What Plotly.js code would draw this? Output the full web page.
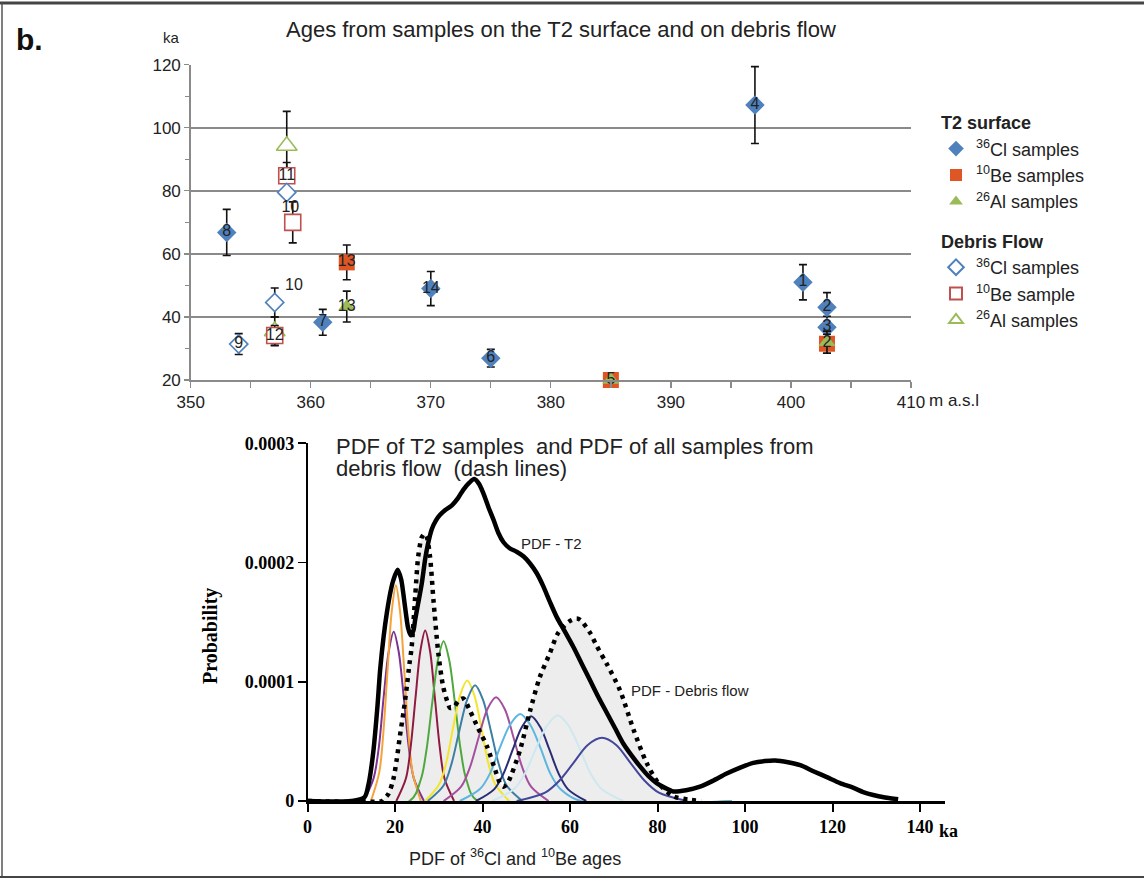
<!DOCTYPE html>
<html>
<head>
<meta charset="utf-8">
<script src="https://cdn.plot.ly/plotly-3.0.1.min.js"></script>
<style>html,body{margin:0;padding:0;background:#fff;}#chart{width:1144px;height:878px;}</style>
</head>
<body>
<div id="chart"></div>
<script>
// ---------- Top chart data: altitude (m a.s.l) vs age (ka) ----------
const clT2X = [401, 403, 403, 397, 375, 361, 353, 370];
const clT2Y = [51, 43.1, 36.7, 107.2, 26.9, 38.3, 66.8, 49];
const clT2Err = [5.6, 4.6, 3.5, 12.2, 2.8, 4.1, 7.3, 5.4];

const beT2X = [363, 385, 403];
const beT2Y = [57.3, 20, 31.5];
const beT2Err = [5.5, 0, 3];

const alT2X = [363, 385, 403];
const alT2Y = [43.3, 20, 32];
const alT2Err = [4.9, 0, 3.5];

const clDfX = [354, 357, 358];
const clDfY = [31.4, 44.6, 79.5];
const clDfErr = [3.3, 4.6, 0];

const beDfX = [357, 358, 358.5];
const beDfY = [34.1, 84.8, 70];
const beDfErr = [3.2, 4.2, 6.5];

const alDfX = [357, 358];
const alDfY = [35.5, 94.3];
const alDfErr = [4.5, 10.9];

const labelX = [353, 354, 357, 358, 358.3, 358.6, 361, 363, 363, 370, 375, 385, 397, 401, 403, 403, 403];
const labelY = [66.8, 31.4, 34.1, 84.8, 74.5, 49.8, 38.3, 57.3, 43.3, 49, 26.9, 20, 107.2, 51, 43.1, 36.7, 31.7];
const labelText = ['8','9','12','11','10','10','7','13','13','14','6','5','4','1','2','3','2'];

const topXTicks = [350, 360, 370, 380, 390, 400, 410];
const topXTickText = ['350', '360', '370', '380', '390', '400', '410'];
const topYTicks = [20, 40, 60, 80, 100, 120];

// ---------- Bottom chart data: PDFs (probability in units of 0.0001) ----------
const pdfT2X = [0, 10, 13.0, 14.0, 15.0, 16.0, 16.6, 17.4, 18.1, 19.0, 19.6, 20.6, 21.4, 21.9, 22.5, 23.0, 23.6, 24.2, 24.6, 25.3, 26.1, 26.9, 27.5, 28.4, 29.3, 30.3, 31.5, 33.0, 34.4, 35.6, 37.0, 38.1, 39.2, 40.2, 41.4, 42.5, 43.6, 44.8, 46.2, 47.8, 49.4, 50.9, 52.4, 53.9, 55.4, 57.0, 59.0, 60.8, 62.7, 64.6, 66.5, 68.4, 70.3, 72.2, 74.1, 76.0, 77.9, 79.8, 81.7, 83.6, 86.5, 89.7, 92.7, 95.8, 98.9, 101.9, 104.5, 106.9, 109.8, 112.6, 115.6, 118.7, 121.7, 124.8, 127.0, 129.3, 132.0, 135.0];
const pdfT2Y = [0, 0, 0.03, 0.15, 0.40, 0.80, 1.10, 1.38, 1.57, 1.76, 1.85, 1.94, 1.86, 1.74, 1.57, 1.45, 1.39, 1.43, 1.52, 1.66, 1.82, 2.03, 2.15, 2.28, 2.35, 2.40, 2.44, 2.48, 2.54, 2.61, 2.67, 2.70, 2.66, 2.58, 2.46, 2.36, 2.25, 2.17, 2.12, 2.09, 2.05, 1.99, 1.91, 1.80, 1.67, 1.54, 1.41, 1.29, 1.15, 1.01, 0.87, 0.74, 0.61, 0.48, 0.38, 0.29, 0.21, 0.15, 0.11, 0.08, 0.09, 0.12, 0.17, 0.23, 0.28, 0.32, 0.335, 0.34, 0.325, 0.30, 0.25, 0.20, 0.15, 0.11, 0.075, 0.05, 0.03, 0.015];

const pdfDfX = [0, 17.0, 17.3, 18.5, 19.6, 20.4, 21.1, 22.0, 22.7, 23.3, 23.8, 24.6, 25.3, 26.1, 26.7, 27.2, 28.0, 28.8, 29.9, 31.0, 31.9, 32.6, 33.5, 34.5, 35.6, 37.1, 39.0, 41.0, 42.9, 44.0, 44.8, 45.7, 46.7, 48.6, 50.9, 53.1, 55.4, 57.3, 60.0, 61.5, 62.3, 64.6, 66.1, 68.4, 71.4, 74.5, 77.5, 80.2, 83.6, 87.4, 90.0];
const pdfDfY = [0, 0, 0.01, 0.06, 0.18, 0.35, 0.54, 0.76, 0.96, 1.15, 1.29, 1.71, 2.05, 2.21, 2.24, 2.22, 2.05, 1.68, 1.24, 0.96, 0.84, 0.78, 0.79, 0.84, 0.86, 0.76, 0.61, 0.46, 0.26, 0.15, 0.12, 0.15, 0.23, 0.43, 0.76, 1.04, 1.24, 1.41, 1.51, 1.53, 1.52, 1.41, 1.30, 1.15, 0.93, 0.60, 0.32, 0.15, 0.04, 0.01, 0];

const compColors = ['#7B3294', '#F4A33A', '#8E1B3F', '#4FA83D', '#F3E52B', '#3C7FA3', '#A5509E', '#5DB6E0', '#2A2D75', '#CFE8F0', '#43479A'];
const compX = [
  [12.8, 15.1, 16.3, 17.4, 18.55, 19.7, 20.85, 22.0, 23.15, 24.3, 26.6],
  [14.5, 16.4, 17.35, 18.3, 19.25, 20.2, 21.15, 22.1, 23.05, 24.0, 25.9],
  [20.3, 22.5, 23.6, 24.7, 25.8, 26.9, 28.0, 29.1, 30.2, 31.3, 33.5],
  [0, 23.3, 25.9, 27.2, 28.5, 29.8, 31.1, 32.4, 33.7, 35.0, 36.3, 38.9, 97],
  [26.9, 30.1, 31.7, 33.3, 34.9, 36.5, 38.1, 39.7, 41.3, 42.9, 46.1],
  [27.5, 31.1, 32.9, 34.7, 36.5, 38.3, 40.1, 41.9, 43.7, 45.5, 49.1],
  [31.1, 35.1, 37.1, 39.1, 41.1, 43.1, 45.1, 47.1, 49.1, 51.1, 55.1],
  [34.8, 39.4, 41.7, 44.0, 46.3, 48.6, 50.9, 53.2, 55.5, 57.8, 62.4, 97],
  [38.5, 42.7, 44.8, 46.9, 49.0, 51.1, 53.2, 55.3, 57.4, 59.5, 63.7],
  [42.2, 47.2, 49.7, 52.2, 54.7, 57.2, 59.7, 62.2, 64.7, 67.2, 72.2],
  [47.8, 54.3, 57.55, 60.8, 64.05, 67.3, 70.55, 73.8, 77.05, 80.3, 86.8]
];
const compY = [
  [0, 0.19, 0.45, 0.87, 1.25, 1.42, 1.25, 0.87, 0.45, 0.19, 0],
  [0, 0.24, 0.58, 1.10, 1.59, 1.81, 1.59, 1.10, 0.58, 0.24, 0],
  [0, 0.19, 0.46, 0.87, 1.26, 1.43, 1.26, 0.87, 0.46, 0.19, 0],
  [0, 0, 0.18, 0.43, 0.82, 1.18, 1.34, 1.18, 0.82, 0.43, 0.18, 0, 0],
  [0, 0.14, 0.32, 0.62, 0.89, 1.01, 0.89, 0.62, 0.32, 0.14, 0],
  [0, 0.13, 0.31, 0.59, 0.85, 0.97, 0.85, 0.59, 0.31, 0.13, 0],
  [0, 0.12, 0.28, 0.53, 0.77, 0.87, 0.77, 0.53, 0.28, 0.12, 0],
  [0, 0.10, 0.23, 0.45, 0.64, 0.73, 0.64, 0.45, 0.23, 0.10, 0, 0],
  [0, 0.10, 0.23, 0.43, 0.62, 0.71, 0.62, 0.43, 0.23, 0.10, 0],
  [0, 0.10, 0.23, 0.44, 0.63, 0.72, 0.63, 0.44, 0.23, 0.10, 0],
  [0, 0.07, 0.17, 0.32, 0.47, 0.53, 0.47, 0.32, 0.17, 0.07, 0]
];

const botXTicks = [0, 20, 40, 60, 80, 100, 120, 140];
const botXTickText = ['0', '20', '40', '60', '80', '100', '120', '140'];
const botYTicks = [0, 1, 2, 3];
const botYTickText = ['0', '0.0001', '0.0002', '0.0003'];

// ---------- helpers for layout positions (pixels -> paper) ----------
const W = 1144, H = 878;
const P = x => x / W;
const Q = y => 1 - y / H;

const SANS = 'Liberation Sans, Arial, sans-serif';
const SERIF = 'Liberation Serif, Times New Roman, serif';
const BLUE = '#4F81BD', ORANGE = '#DE5626', GREEN = '#9BBB59', RED = '#C0504D';
const GTITLE = {family: SANS, size: 18, weight: 'bold', color: '#222'};

function errs(arr) {
  return {type: 'data', array: arr, visible: true, color: '#111', thickness: 1.6, width: 4};
}

const traces = [];

// Debris flow (open markers)
traces.push({
  x: alDfX, y: alDfY, type: 'scatter', mode: 'markers', xaxis: 'x', yaxis: 'y',
  name: '<sup>26</sup>Al samples', legendgroup: 'df', legendrank: 6,
  legendgrouptitle: {text: 'Debris Flow', font: GTITLE},
  marker: {symbol: 'triangle-up', size: 18, color: '#fff', line: {color: GREEN, width: 1.6}},
  error_y: errs(alDfErr), cliponaxis: false
});
traces.push({
  x: beDfX, y: beDfY, type: 'scatter', mode: 'markers', xaxis: 'x', yaxis: 'y',
  name: '<sup>10</sup>Be sample', legendgroup: 'df', legendrank: 5,
  legendgrouptitle: {text: 'Debris Flow', font: GTITLE},
  marker: {symbol: 'square', size: 16, color: '#fff', line: {color: RED, width: 1.6}},
  error_y: errs(beDfErr), cliponaxis: false
});
traces.push({
  x: clDfX, y: clDfY, type: 'scatter', mode: 'markers', xaxis: 'x', yaxis: 'y',
  name: '<sup>36</sup>Cl samples', legendgroup: 'df', legendrank: 4,
  legendgrouptitle: {text: 'Debris Flow', font: GTITLE},
  marker: {symbol: 'diamond', size: 14, color: '#fff', line: {color: BLUE, width: 1.6}},
  error_y: errs(clDfErr), cliponaxis: false
});
// T2 surface (filled markers)
traces.push({
  x: clT2X, y: clT2Y, type: 'scatter', mode: 'markers', xaxis: 'x', yaxis: 'y',
  name: '<sup>36</sup>Cl samples', legendgroup: 't2', legendrank: 1,
  legendgrouptitle: {text: 'T2 surface', font: GTITLE},
  marker: {symbol: 'diamond', size: 15, color: BLUE, line: {width: 0}},
  error_y: errs(clT2Err), cliponaxis: false
});
traces.push({
  x: beT2X, y: beT2Y, type: 'scatter', mode: 'markers', xaxis: 'x', yaxis: 'y',
  name: '<sup>10</sup>Be samples', legendgroup: 't2', legendrank: 2,
  legendgrouptitle: {text: 'T2 surface', font: GTITLE},
  marker: {symbol: 'square', size: 16, color: ORANGE, line: {width: 0}},
  error_y: errs(beT2Err), cliponaxis: false
});
traces.push({
  x: alT2X, y: alT2Y, type: 'scatter', mode: 'markers', xaxis: 'x', yaxis: 'y',
  name: '<sup>26</sup>Al samples', legendgroup: 't2', legendrank: 3,
  legendgrouptitle: {text: 'T2 surface', font: GTITLE},
  marker: {symbol: 'triangle-up', size: 15, color: GREEN, line: {width: 0}},
  error_y: errs(alT2Err), cliponaxis: false
});
// sample number labels
traces.push({
  x: labelX, y: labelY, text: labelText, type: 'scatter', mode: 'text', xaxis: 'x', yaxis: 'y',
  textposition: 'middle center', textfont: {family: SANS, size: 16, color: '#222'},
  showlegend: false, hoverinfo: 'skip', cliponaxis: false
});

// Bottom: grey fill under debris-flow PDF
traces.push({
  x: pdfDfX, y: pdfDfY, type: 'scatter', mode: 'lines', xaxis: 'x2', yaxis: 'y2',
  fill: 'tozeroy', fillcolor: '#EDEDED', line: {width: 0, shape: 'spline', smoothing: 0.8},
  showlegend: false, hoverinfo: 'skip'
});
// individual sample PDFs
for (let i = 0; i < compX.length; i++) {
  traces.push({
    x: compX[i], y: compY[i], type: 'scatter', mode: 'lines', xaxis: 'x2', yaxis: 'y2',
    line: {color: compColors[i], width: 2, shape: 'spline', smoothing: 0.9},
    showlegend: false
  });
}
// debris flow PDF (dotted)
traces.push({
  x: pdfDfX, y: pdfDfY, type: 'scatter', mode: 'lines', xaxis: 'x2', yaxis: 'y2',
  line: {color: '#000', width: 4.5, dash: '4px,5px', shape: 'spline', smoothing: 0.8},
  showlegend: false
});
// T2 PDF (thick solid)
traces.push({
  x: pdfT2X, y: pdfT2Y, type: 'scatter', mode: 'lines', xaxis: 'x2', yaxis: 'y2',
  line: {color: '#000', width: 4.5, shape: 'spline', smoothing: 0.8},
  showlegend: false
});

const layout = {
  width: W, height: H,
  margin: {l: 0, r: 0, t: 0, b: 0},
  paper_bgcolor: '#fff', plot_bgcolor: 'rgba(0,0,0,0)',
  showlegend: true,
  legend: {
    x: P(936), y: Q(104), xanchor: 'left', yanchor: 'top',
    font: {family: SANS, size: 18, color: '#222'},
    tracegroupgap: 13, itemsizing: 'constant', bgcolor: 'rgba(0,0,0,0)',
    itemwidth: 30
  },
  xaxis: {
    domain: [P(190.7), P(911)], anchor: 'y', range: [350, 410],
    tickmode: 'array', tickvals: topXTicks, ticktext: topXTickText,
    ticks: 'outside', ticklen: 6, tickcolor: '#8a8a8a', tickwidth: 1.3,
    minor: {dtick: 5, ticks: 'outside', ticklen: 6, tickcolor: '#8a8a8a', tickwidth: 1.3, showgrid: false},
    showline: true, linecolor: '#8a8a8a', linewidth: 1.5, showgrid: false, zeroline: false,
    tickfont: {family: SANS, size: 17, color: '#222'}
  },
  yaxis: {
    domain: [Q(380), Q(64.7)], anchor: 'x', range: [20, 120],
    tickmode: 'array', tickvals: topYTicks,
    ticks: 'outside', ticklen: 5, tickcolor: '#8a8a8a', tickwidth: 1.3,
    minor: {dtick: 10, ticks: 'outside', ticklen: 4, tickcolor: '#8a8a8a', tickwidth: 1.3, showgrid: false},
    showline: true, linecolor: '#8a8a8a', linewidth: 1.5,
    showgrid: true, gridcolor: '#8a8a8a', gridwidth: 1.5, zeroline: false,
    tickfont: {family: SANS, size: 17, color: '#222'}
  },
  xaxis2: {
    domain: [P(307.5), P(945)], anchor: 'y2', range: [0, 145.7],
    tickmode: 'array', tickvals: botXTicks, ticktext: botXTickText,
    ticks: 'outside', ticklen: 8, tickcolor: '#000', tickwidth: 2,
    showline: true, linecolor: '#000', linewidth: 2.5, showgrid: false, zeroline: false,
    tickfont: {family: SERIF, size: 18, color: '#000', weight: 'bold'}
  },
  yaxis2: {
    domain: [Q(801), Q(443.3)], anchor: 'x2', range: [0, 3],
    tickmode: 'array', tickvals: botYTicks, ticktext: botYTickText,
    ticks: 'outside', ticklen: 8, tickcolor: '#000', tickwidth: 1.6,
    showline: true, linecolor: '#000', linewidth: 1.6, showgrid: false, zeroline: false,
    tickfont: {family: SERIF, size: 18, color: '#000', weight: 'bold'}
  },
  annotations: [
    {text: 'b.', xref: 'paper', yref: 'paper', x: P(14), y: Q(40), xanchor: 'left', yanchor: 'middle',
     showarrow: false, font: {family: SANS, size: 30, color: '#111', weight: 'bold'}},
    {text: 'ka', xref: 'paper', yref: 'paper', x: P(171), y: Q(38), xanchor: 'center', yanchor: 'middle',
     showarrow: false, font: {family: SANS, size: 15, color: '#222'}},
    {text: 'Ages from samples on the T2 surface and on debris flow', xref: 'paper', yref: 'paper',
     x: P(561), y: Q(30), xanchor: 'center', yanchor: 'middle', showarrow: false,
     font: {family: SANS, size: 22, color: '#222'}},
    {text: 'm a.s.l', xref: 'paper', yref: 'paper', x: P(927), y: Q(401), xanchor: 'left', yanchor: 'middle',
     showarrow: false, font: {family: SANS, size: 17, color: '#222'}},
    {text: 'PDF of T2 samples  and PDF of all samples from', xref: 'paper', yref: 'paper',
     x: P(334), y: Q(446), xanchor: 'left', yanchor: 'middle', showarrow: false,
     font: {family: SANS, size: 22, color: '#222'}},
    {text: 'debris flow  (dash lines)', xref: 'paper', yref: 'paper',
     x: P(334), y: Q(468), xanchor: 'left', yanchor: 'middle', showarrow: false,
     font: {family: SANS, size: 22, color: '#222'}},
    {text: 'PDF - T2', xref: 'paper', yref: 'paper', x: P(551), y: Q(543), xanchor: 'center', yanchor: 'middle',
     showarrow: false, font: {family: SANS, size: 15, color: '#222'}},
    {text: 'PDF - Debris flow', xref: 'paper', yref: 'paper', x: P(690), y: Q(690), xanchor: 'center', yanchor: 'middle',
     showarrow: false, font: {family: SANS, size: 15, color: '#222'}},
    {text: 'Probability', xref: 'paper', yref: 'paper', x: P(210), y: Q(636), xanchor: 'center', yanchor: 'middle',
     textangle: -90, showarrow: false, font: {family: SERIF, size: 20, color: '#000', weight: 'bold'}},
    {text: 'ka', xref: 'paper', yref: 'paper', x: P(937), y: Q(831), xanchor: 'left', yanchor: 'middle',
     showarrow: false, font: {family: SERIF, size: 18, color: '#000', weight: 'bold'}},
    {text: 'PDF of <sup>36</sup>Cl and <sup>10</sup>Be ages', xref: 'paper', yref: 'paper',
     x: P(515), y: Q(857), xanchor: 'center', yanchor: 'middle', showarrow: false,
     font: {family: SANS, size: 18, color: '#222'}}
  ],
  shapes: [
    {type: 'line', xref: 'paper', yref: 'paper', x0: 0, x1: 1, y0: Q(3), y1: Q(3), line: {color: '#444', width: 3}},
    {type: 'line', xref: 'paper', yref: 'paper', x0: P(2), x1: P(2), y0: Q(3), y1: Q(877), line: {color: '#555', width: 1.5}},
    {type: 'line', xref: 'paper', yref: 'paper', x0: 0, x1: 1, y0: Q(877), y1: Q(877), line: {color: '#444', width: 2}}
  ]
};

Plotly.newPlot('chart', traces, layout, {displayModeBar: false, staticPlot: true});
</script>
</body>
</html>
